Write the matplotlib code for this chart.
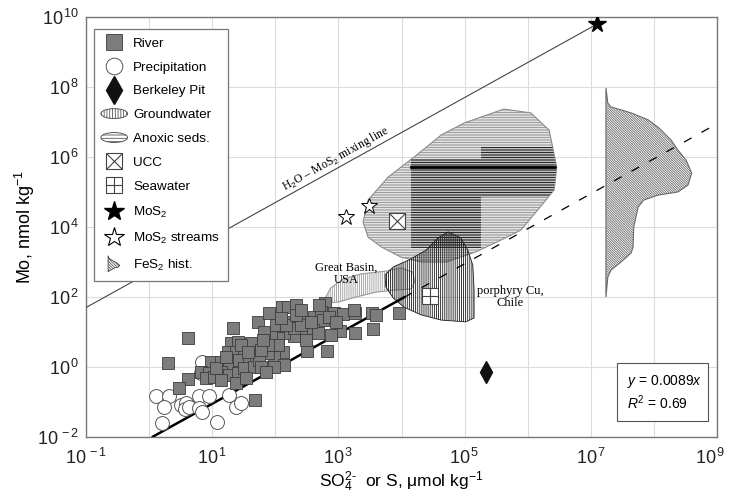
import matplotlib
matplotlib.use("Agg")
import matplotlib.pyplot as plt
import numpy as np
from matplotlib.patches import Polygon, Ellipse, Rectangle, Patch
from matplotlib.lines import Line2D
from matplotlib.legend_handler import HandlerPatch
from matplotlib.ticker import FixedLocator, NullLocator, NullFormatter
from matplotlib.transforms import ScaledTranslation

plt.rcParams['font.family'] = ['Liberation Sans', 'DejaVu Sans']
plt.rcParams['mathtext.fontset'] = 'custom'
plt.rcParams['mathtext.rm'] = 'Liberation Sans'
plt.rcParams['mathtext.it'] = 'Liberation Sans:italic'
plt.rcParams['hatch.linewidth'] = 0.6

# ---- data (log10 values) ----
river_logS = [0.62, 0.30, 0.62, 0.47, 1.33, 1.68, 0.98, 1.30, 1.41, 1.25, 1.38, 1.50, 1.65, 1.14,
              1.27, 1.42, 1.58, 1.69, 0.82, 0.95, 1.14, 1.27, 1.41, 1.50, 1.66, 1.38, 0.90, 1.03,
              1.73, 1.14, 1.90, 2.11, 2.20, 2.33, 2.79, 2.93, 3.07, 3.26, 3.53, 3.60, 3.96, 3.26,
              3.55, 3.03, 2.82, 2.50, 2.49, 2.61, 2.72, 2.76, 2.85, 2.25, 2.38, 2.44, 2.60, 2.68,
              2.88, 2.30, 2.14, 2.04, 1.93, 1.82, 2.12, 1.98, 1.88, 1.74, 2.14, 1.98, 1.77, 2.04,
              1.88, 1.73, 1.61, 2.49, 2.30, 2.41, 3.25, 1.46, 1.57, 1.77, 1.80, 2.01, 2.17, 2.33,
              2.57, 2.69, 2.96, 1.85, 1.54, 1.06, 1.22, 2.41, 2.09]
river_logMo = [0.83, 0.11, -0.34, -0.60, 1.11, -0.94, 0.14, 0.69, 0.71, 0.43, 0.43, 0.49, 0.54, 0.14,
               0.11, 0.20, 0.26, 0.29, -0.14, -0.17, -0.14, -0.23, -0.17, -0.03, 0.00, -0.46, -0.31, -0.29,
               1.29, -0.37, 1.54, 1.71, 1.71, 1.77, 1.83, 1.54, 1.51, 1.54, 1.54, 1.49, 1.54, 0.97,
               1.09, 1.03, 0.46, 0.46, 1.29, 1.43, 1.57, 1.34, 1.43, 1.29, 1.40, 1.06, 1.06, 0.97,
               0.91, 0.89, 0.97, 0.83, 0.91, 1.00, 0.43, 0.29, 0.40, 0.20, 0.06, 0.00, 0.00, 0.63,
               0.63, 0.63, 0.69, 0.77, 1.11, 1.20, 1.63, 0.63, 0.43, 0.49, 0.77, 1.20, 1.20, 1.49,
               1.29, 1.77, 1.29, -0.14, -0.31, -0.03, 0.29, 1.63, 1.40]

precip_logS = [0.11, 0.32, 0.24, 0.51, 0.58, 0.57, 0.63, 0.79, 0.95, 0.79, 0.84, 0.20, 1.08,
               1.27, 1.38, 1.46, 0.84, 0.82]
precip_logMo = [-0.83, -0.83, -1.14, -1.09, -1.03, -1.20, -1.14, -0.83, -0.83, -1.17, -1.29, -1.60,
                -1.57, -0.80, -1.14, -1.03, 0.14, -0.17]

berkeley = (2.2e5, 0.72)
ucc = (8.5e3, 1.5e4)
seawater = (2.8e4, 105)
mos2 = (1.25e7, 6.25e9)
mos2_streams_S = [1.3e3, 3.0e3]
mos2_streams_Mo = [1.95e4, 4.0e4]

fit_slope = 0.0089
fit_r2 = 0.69
mix_slope = 500  # H2O - MoS2 line, Mo/S in nmol per umol

# anoxic sediments outline
anoxic_logS = [3.39, 3.47, 3.79, 4.20, 4.63, 4.99, 5.62, 6.05, 6.34, 6.46, 6.42, 6.16, 5.89,
               5.58, 5.18, 4.71, 4.31, 3.99, 3.68, 3.47]
anoxic_logMo = [4.14, 4.77, 5.43, 6.00, 6.63, 6.97, 7.37, 7.26, 6.77, 5.71, 5.06, 4.49, 3.91,
                3.63, 3.29, 3.00, 3.00, 3.14, 3.43, 3.71]
anoxic_box1 = (4.15, 5.26, 3.40, 5.94)  # logS lo, hi, logMo lo, hi
anoxic_box2 = (5.26, 6.50, 4.86, 6.29)
anoxic_median = 5.71

# groundwater: porphyry Cu (Chile) and Great Basin (USA)
porph_logS = [4.74, 4.94, 5.05, 5.13, 5.15, 5.15, 5.02, 4.63, 4.31, 4.04, 3.87, 3.75, 3.74,
              3.87, 4.12, 4.39, 4.58]
porph_logMo = [3.86, 3.69, 3.34, 2.91, 2.20, 1.40, 1.29, 1.34, 1.49, 1.71, 1.97, 2.29, 2.63,
               2.86, 3.06, 3.34, 3.69]
basin_logS = [2.80, 2.88, 3.07, 3.36, 3.75, 3.99, 4.18, 4.21, 4.15, 3.91, 3.60, 3.28, 3.01, 2.85]
basin_logMo = [2.00, 2.26, 2.51, 2.66, 2.74, 2.83, 2.71, 2.43, 2.23, 2.20, 2.14, 2.00, 1.86, 1.83]

# FeS2 histogram (log Mo vs width in decades from base at log S = 7.24)
hist_base = 7.24
hist_logMo = [7.97, 7.54, 7.43, 7.26, 7.06, 6.83, 6.49, 6.20, 5.91, 5.54, 5.20, 5.00, 4.91, 4.77,
              4.57, 4.00, 3.43, 3.26, 3.00, 2.77, 2.57, 2.00]
hist_width = [0.0, 0.03, 0.08, 0.40, 0.67, 0.84, 1.03, 1.14, 1.27, 1.36, 1.30, 1.14, 0.82, 0.60,
              0.51, 0.44, 0.43, 0.40, 0.24, 0.08, 0.03, 0.0]

# ---- figure ----
fig = plt.figure(figsize=(7.29, 4.96), dpi=100)
ax = fig.add_axes([86 / 729, 59 / 496, 631 / 729, 420 / 496])
ax.set_xscale('log')
ax.set_yscale('log')
ax.set_xlim(1e-1, 1e9)
ax.set_ylim(1e-2, 1e10)

xmaj = [10.0 ** e for e in range(-1, 10, 2)]
ymaj = [10.0 ** e for e in range(-2, 11, 2)]
ax.xaxis.set_major_locator(FixedLocator(xmaj))
ax.xaxis.set_minor_locator(FixedLocator([10.0 ** e for e in range(0, 9, 2)]))
ax.xaxis.set_minor_formatter(NullFormatter())
ax.yaxis.set_major_locator(FixedLocator(ymaj))
ax.yaxis.set_minor_locator(NullLocator())
ax.set_xticklabels([r'$\mathregular{10^{\,%d}}$' % e for e in range(-1, 10, 2)])
ax.set_yticklabels([r'$\mathregular{10^{\,%d}}$' % e for e in range(-2, 11, 2)])
ax.tick_params(which='both', length=0, labelsize=13, colors='#222222')
ax.tick_params(axis='x', pad=8)
ax.tick_params(axis='y', pad=5)
ax.grid(True, which='both', color='#dcdcdc', lw=0.8)
ax.set_axisbelow(True)
for s in ax.spines.values():
    s.set_color('#777777')
    s.set_linewidth(1.0)

ax.set_xlabel('SO$_4^{2\\text{-}}$  or S, \u03bcmol kg$^{-1}$', fontsize=12.5)
ax.set_ylabel(r'Mo, nmol kg$^{-1}$', fontsize=13)
ax.xaxis.set_label_coords(0.5, -0.078)
ax.yaxis.set_label_coords(-0.078, 0.5)

# anoxic sediments
anox_xy = np.column_stack([10.0 ** np.array(anoxic_logS), 10.0 ** np.array(anoxic_logMo)])
anox = Polygon(anox_xy, closed=True, facecolor='white', edgecolor='#8c8c8c', lw=0.8,
               hatch='----------', zorder=2)
ax.add_patch(anox)
for (x0, x1, y0, y1) in (anoxic_box1, anoxic_box2):
    r = Rectangle((10 ** x0, 10 ** y0), 10 ** x1 - 10 ** x0, 10 ** y1 - 10 ** y0,
                  facecolor='white', edgecolor='black', lw=0, hatch='----------', zorder=2.1)
    ax.add_patch(r)
    r.set_clip_path(anox)
med, = ax.plot([10 ** anoxic_box1[0], 10 ** anoxic_box2[1]], [10 ** anoxic_median] * 2,
               color='black', lw=2.0, zorder=2.2)
med.set_clip_path(anox)

# groundwater
basin_xy = np.column_stack([10.0 ** np.array(basin_logS), 10.0 ** np.array(basin_logMo)])
ax.add_patch(Polygon(basin_xy, closed=True, facecolor='white', edgecolor='#9a9a9a', lw=0.8,
                     hatch='||||||||', zorder=2.3))
porph_xy = np.column_stack([10.0 ** np.array(porph_logS), 10.0 ** np.array(porph_logMo)])
ax.add_patch(Polygon(porph_xy, closed=True, facecolor='none', edgecolor='#1a1a1a', lw=0.6,
                     hatch='||||||||', zorder=2.4))

# FeS2 histogram
hx = 10.0 ** (hist_base + np.array(hist_width))
hy = 10.0 ** np.array(hist_logMo)
ax.add_patch(Polygon(np.column_stack([hx, hy]), closed=True, facecolor='white',
                     edgecolor='#6a6a6a', lw=0.8, hatch='\\' * 14, zorder=2.5))

# lines
xs_solid = np.array([1.15, 1.1e4])
ax.plot(xs_solid, fit_slope * xs_solid, color='black', lw=1.8, zorder=3)
xs_dash = np.array([1.1e4, 1e9])
ax.plot(xs_dash, fit_slope * xs_dash, color='black', lw=0.9, dashes=(7, 9), zorder=3)
xs_mix = np.array([1e-1, mos2[0]])
ax.plot(xs_mix, mix_slope * xs_mix, color='#444444', lw=0.8, zorder=3)

# points
ax.scatter(10.0 ** np.array(precip_logS), 10.0 ** np.array(precip_logMo), s=100, marker='o',
           facecolor='white', edgecolor='#555555', lw=0.7, zorder=4)
ax.scatter(10.0 ** np.array(river_logS), 10.0 ** np.array(river_logMo), s=85, marker='s',
           facecolor='#7c7c7c', edgecolor='#3c3c3c', lw=0.6, zorder=5)
ax.plot(*berkeley, marker='d', ms=11, color='#111111', ls='', zorder=6)
ax.plot(*ucc, marker='s', ms=11, mfc='white', mec='#444444', mew=0.8, ls='', zorder=6)
ax.plot(*ucc, marker='x', ms=11, mec='#444444', mew=0.8, ls='', zorder=6)
ax.plot(*seawater, marker='s', ms=12, mfc='white', mec='#444444', mew=0.8, ls='', zorder=6)
ax.plot(*seawater, marker='+', ms=12, mec='#444444', mew=0.8, ls='', zorder=6)
ax.plot(*mos2, marker='*', ms=13, color='black', ls='', zorder=6)
ax.plot(mos2_streams_S, mos2_streams_Mo, marker='*', ms=12, mfc='white', mec='black',
        mew=0.7, ls='', zorder=6)

# text labels
serif = ['Liberation Serif', 'DejaVu Serif']
ax.text(10 ** 2.95, 10 ** 5.95, r'H$_2$O – MoS$_2$ mixing line', family=serif, fontsize=8.5,
        rotation=29, ha='center', va='center', rotation_mode='anchor', zorder=7)
ax.text(10 ** 3.12, 10 ** 2.66, 'Great Basin,\nUSA', family=serif, fontsize=9,
        ha='center', va='center', linespacing=1.1, zorder=7)
ax.text(10 ** 5.72, 10 ** 2.0, 'porphyry Cu,\nChile', family=serif, fontsize=9,
        ha='center', va='center', linespacing=1.1, zorder=7)

# regression box
ax.add_patch(Rectangle((0.8415, 0.038), 0.145, 0.138, transform=ax.transAxes,
                       facecolor='white', edgecolor='#555555', lw=0.8, zorder=7))
ax.text(0.857, 0.131, r'$y$ = %.4f$x$' % fit_slope, transform=ax.transAxes, fontsize=10,
        va='center', zorder=8)
ax.text(0.857, 0.081, r'$R^2$ = %.2f' % fit_r2, transform=ax.transAxes, fontsize=10,
        va='center', zorder=8)

# legend
def ellipse_patch(legend, orig_handle, xdescent, ydescent, width, height, fontsize):
    return Ellipse((width / 2 - xdescent, height / 2 - ydescent), width * 1.1, height * 1.05)

def hist_patch(legend, orig_handle, xdescent, ydescent, width, height, fontsize):
    cx = width * 0.25 - xdescent
    cy = height / 2 - ydescent
    h = height * 1.7
    fx = [0, 0.05, 0.3, 0.6, 0.8, 0.7, 0.45, 0.35, 0.2, 0.05, 0]
    fy = [0.5, 0.35, 0.2, 0.05, -0.1, -0.2, -0.25, -0.3, -0.38, -0.45, -0.5]
    pts = [(cx + a * width * 0.6, cy + b * h) for a, b in zip(fx, fy)]
    return Polygon(pts, closed=True)

h_river = Line2D([], [], marker='s', ls='', ms=11, mfc='#7c7c7c', mec='#3c3c3c', mew=0.6)
h_precip = Line2D([], [], marker='o', ls='', ms=12, mfc='white', mec='#555555', mew=0.7)
h_pit = Line2D([], [], marker='d', ls='', ms=14, color='#111111')
h_gw = Patch(facecolor='white', edgecolor='#555555', hatch='||||||', lw=0.7)
h_anox = Patch(facecolor='white', edgecolor='#555555', hatch='-----', lw=0.7)
h_ucc = (Line2D([], [], marker='s', ls='', ms=12, mfc='white', mec='#444444', mew=0.8),
         Line2D([], [], marker='x', ls='', ms=12, mec='#444444', mew=0.8))
h_sw = (Line2D([], [], marker='s', ls='', ms=12, mfc='white', mec='#444444', mew=0.8),
        Line2D([], [], marker='+', ls='', ms=12, mec='#444444', mew=0.8))
h_mos2 = Line2D([], [], marker='*', ls='', ms=15, color='black')
h_str = Line2D([], [], marker='*', ls='', ms=15, mfc='white', mec='black', mew=0.8)
h_hist = Patch(facecolor='white', edgecolor='#555555', hatch='\\' * 12, lw=0.7)

handles = [h_river, h_precip, h_pit, h_gw, h_anox, h_ucc, h_sw, h_mos2, h_str, h_hist]
labels = ['River', 'Precipitation', 'Berkeley Pit', 'Groundwater', 'Anoxic seds.', 'UCC',
          'Seawater', r'MoS$_2$', r'MoS$_2$ streams', r'FeS$_2$ hist.']
leg = ax.legend(handles, labels, loc='upper left', bbox_to_anchor=(0.0127, 0.971),
                borderaxespad=0, fontsize=9.7, frameon=True, fancybox=False,
                edgecolor='#777777', framealpha=1, labelspacing=0.85, handlelength=1.8,
                handletextpad=0.5, borderpad=0.6,
                handler_map={h_gw: HandlerPatch(patch_func=ellipse_patch),
                             h_anox: HandlerPatch(patch_func=ellipse_patch),
                             h_hist: HandlerPatch(patch_func=hist_patch)})
leg.get_frame().set_linewidth(0.9)
leg.set_zorder(10)

# keep the last x tick label inside the figure
last = ax.get_xticklabels()[-1]
last.set_transform(last.get_transform() + ScaledTranslation(-5 / 72, 0, fig.dpi_scale_trans))

fig.savefig('out.png', dpi=100)
